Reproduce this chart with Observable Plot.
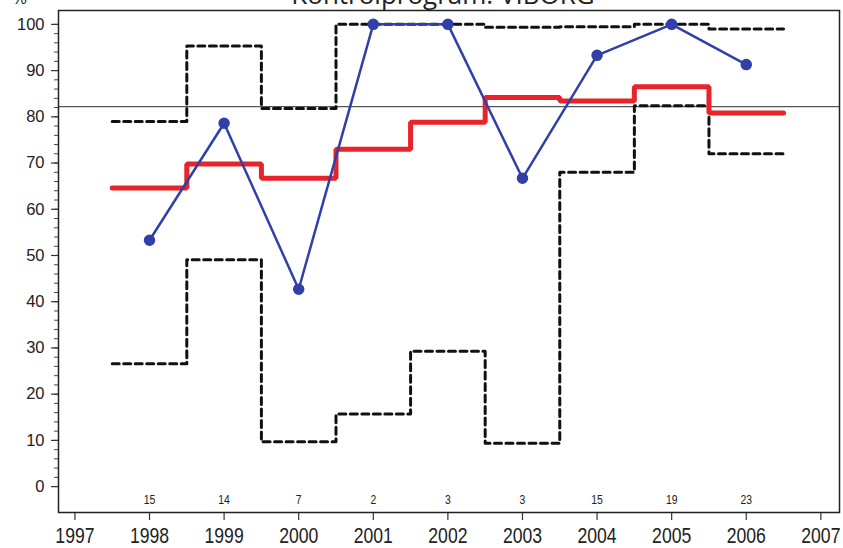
<!DOCTYPE html>
<html><head><meta charset="utf-8">
<script src="https://cdn.jsdelivr.net/npm/d3@7"></script>
<script src="https://cdn.jsdelivr.net/npm/@observablehq/plot@0.6"></script>
<style>
body{margin:0;background:#fff}
#chart svg{display:block}
</style>
</head><body><div id="chart"></div>
<script>
const years = [1998, 1999, 2000, 2001, 2002, 2003, 2004, 2005, 2006];
const observed = [53.3, 78.6, 42.7, 100, 100, 66.7, 93.3, 100, 91.3];
const expected = [64.6, 69.8, 66.7, 73.0, 78.8, 84.2, 83.4, 86.5, 80.8];
const upper = [79.0, 95.3, 81.8, 100, 100, 99.4, 99.5, 100, 99.0];
const lower = [26.6, 49.1, 9.7, 15.7, 29.3, 9.4, 68.0, 82.4, 72.0];
const counts = [15, 14, 7, 2, 3, 3, 15, 19, 23];
const overall = 82.2;
const xTicks = [1997, 1998, 1999, 2000, 2001, 2002, 2003, 2004, 2005, 2006, 2007];
const yTicks = [0, 10, 20, 30, 40, 50, 60, 70, 80, 90, 100];
const yMinorTicks = d3.range(0, 101, 2);
const title = "Kontrolprogram: VIBORG";
const unitLabel = "%";

const stepPts = (vals) => years.flatMap((yr, i) => [{x: yr - 0.5, y: vals[i]}, {x: yr + 0.5, y: vals[i]}]);
const obsData = years.map((yr, i) => ({x: yr, y: observed[i]}));
const countData = years.map((yr, i) => ({x: yr, n: "n" + counts[i]}));

const sans = "Liberation Sans, Arial, Helvetica, sans-serif";
const blue = "#3040a8";

const chart = Plot.plot({
  width: 843,
  height: 548,
  marginLeft: 58,
  marginRight: 4,
  marginTop: 10,
  marginBottom: 36,
  style: {background: "#fff", fontFamily: sans, color: "#222"},
  x: {domain: [1996.78, 2007.25]},
  y: {domain: [-5.6, 103.0]},
  marks: [
    Plot.axisY(yMinorTicks, {tickSize: 4, text: null, stroke: "#444", strokeWidth: 1, label: null}),
    Plot.axisY(yTicks, {tickSize: 7, tickPadding: 7, fontSize: 16.5, fontFamily: sans, stroke: "#333", strokeWidth: 1.2, fill: "#222", label: null, tickFormat: d => String(d)}),
    Plot.axisX(xTicks, {tickSize: 8, tickPadding: 7, fontSize: 22, fontFamily: sans, stroke: "#333", strokeWidth: 1.2, fill: "#222", label: null, tickFormat: d => String(d)}),
    Plot.ruleY([overall], {stroke: "#555", strokeWidth: 1.2}),
    Plot.line(stepPts(upper), {x: "x", y: "y", stroke: "#111", strokeWidth: 3, strokeDasharray: "7,4.5"}),
    Plot.line(stepPts(lower), {x: "x", y: "y", stroke: "#111", strokeWidth: 3, strokeDasharray: "7,4.5"}),
    Plot.line(stepPts(expected), {x: "x", y: "y", stroke: "#e8232a", strokeWidth: 5, strokeLinejoin: "miter"}),
    Plot.line(obsData, {x: "x", y: "y", stroke: blue, strokeWidth: 2.5}),
    Plot.dot(obsData, {x: "x", y: "y", r: 5, fill: blue, stroke: blue}),
    Plot.text(countData, {x: "x", y: -2.8, text: d => d.n.slice(1), fontSize: 13, fontFamily: sans, fill: "#222"}),
    Plot.frame({stroke: "#222", strokeWidth: 1.5}),
    Plot.text([title], {frameAnchor: "top", text: d => d, dx: -6, dy: -7, lineAnchor: "bottom", fontSize: 26, fontFamily: "Open Sans, sans-serif", fill: "#222"}),
    Plot.text([unitLabel], {frameAnchor: "top-left", text: d => d, dx: -46, dy: -7, lineAnchor: "bottom", textAnchor: "start", fontSize: 16, fill: "#222"})
  ]
});
const svg = d3.select(chart);
// condense the year and count labels horizontally (narrow typeface look)
const countSet = new Set(counts.map(String));
svg.selectAll("text").each(function () {
  const s = this.textContent.trim();
  let k = null;
  if (/^\d{4}$/.test(s)) k = 0.8;
  else if (this.parentNode.getAttribute("font-size") == "13" && countSet.has(s)) {
    k = 0.8;
    this.setAttribute("font-size", 13);
  }
  if (k) {
    const t = this.getAttribute("transform") || "";
    this.setAttribute("transform", t + ` scale(${k},1)`);
  }
});
document.getElementById("chart").appendChild(chart);
</script>
</body></html>
